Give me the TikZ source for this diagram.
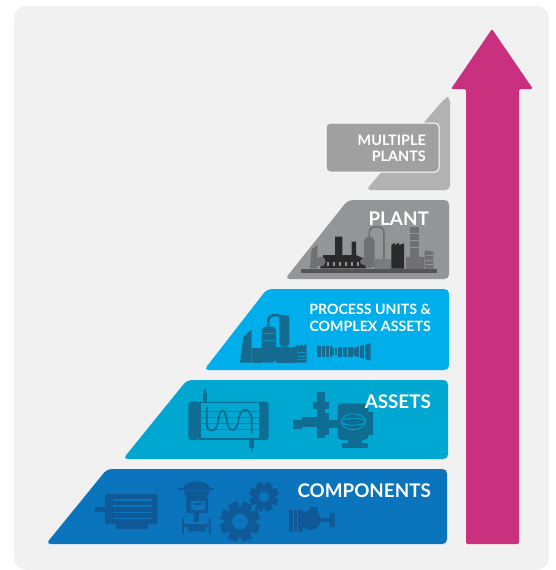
\documentclass[tikz,border=0pt]{standalone}
\usepackage{fontspec}
\setmainfont{Lato}
\definecolor{bgc}{HTML}{F1F1F1}
\definecolor{compc}{HTML}{0A75BC}
\definecolor{assetc}{HTML}{00A7D0}
\definecolor{procc}{HTML}{00AEEB}
\definecolor{plantc}{HTML}{939598}
\definecolor{multc}{HTML}{B2B2B2}
\definecolor{boxc}{HTML}{A0A0A0}
\definecolor{arrc}{HTML}{C9317F}
\definecolor{icomp}{HTML}{0F5A96}
\definecolor{iasset}{HTML}{0F6C93}
\definecolor{iproc}{HTML}{146A8F}
\definecolor{idark}{HTML}{2A2A2A}
\definecolor{imid}{HTML}{555557}
\definecolor{ilight}{HTML}{707072}
\tikzset{
  tier/.style={rounded corners=4.5pt,draw=none},
  lab/.style={text=white,inner sep=0pt,align=right},
  bigfont/.style={font=\fontsize{18.8}{19}\selectfont\bfseries},
  zoomA/.style={shift={(40,370)},x=.33333pt,y=-.33333pt},
  zoomB/.style={shift={(200,190)},x=.33333pt,y=-.33333pt},
}
\newcommand{\gearicon}[6]{% cx cy outer root hole colour
  \foreach \a in {0,45,...,315}{
    \fill[#6,rotate around={\a+22:(#1,#2)}] ({#1-#4*.33},#2) rectangle ({#1+#4*.33},{#2+#3});
  }
  \fill[#6] (#1,#2) circle[radius=#4*.3333pt];
  \fill[compc] (#1,#2) circle[radius=#5*.3333pt];
}
\begin{document}
\begin{tikzpicture}[x=1pt,y=-1pt]
\useasboundingbox (0,0) rectangle (555,570);
\fill[white] (0,0) rectangle (555,570);
\fill[bgc,rounded corners=12pt] (14,6) -- (549,6) -- (549,570) -- (14,570) -- cycle;

% tiers
\fill[tier,compc] (107,469) -- (447,469) -- (447,544) -- (46,544) -- cycle;
\fill[tier,assetc] (187,380) -- (448,380) -- (448,459) -- (123,459) -- cycle;
\fill[tier,procc] (267,289) -- (449,289) -- (449,370) -- (204,370) -- cycle;
\fill[tier,plantc] (348,200) -- (449,200) -- (449,279) -- (285,279) -- cycle;
\fill[tier,multc] (446,97) -- (450,97) -- (450,190) -- (366,190) -- cycle;
\fill[boxc,draw=white,line width=1pt,rounded corners=4pt] (326,123) rectangle (439,172);

% arrow
\fill[arrc,rounded corners=1.5pt] (492,29) -- (533,89) -- (519,89) -- (519,544) -- (466,544) -- (466,89) -- (451,89) -- cycle;

\begin{scope}[zoomA]
  % motor
  \fill[icomp,rounded corners=2pt] (195,372) rectangle (353,463);
  \fill[icomp] (165,410) rectangle (195,426);
  \fill[icomp] (228,463) rectangle (325,478);
  \foreach \yy in {388,406,425,443}{\fill[compc] (218,\yy) rectangle (335,{\yy+4});}
  % valve
  \fill[icomp] (430,355) arc[start angle=180,end angle=0,x radius=13.3pt,y radius=7pt] -- cycle;
  \fill[icomp] (415,355) rectangle (522,361);
  \fill[icomp] (430,361) -- (510,361) -- (500,385) -- (440,385) -- cycle;
  \fill[icomp] (437,385) rectangle (505,430);
  \fill[compc] (453,392) rectangle (495,420);
  \fill[icomp] (462,400) rectangle (486,405);
  \fill[icomp] (462,430) rectangle (478,455);
  \fill[icomp] (440,462) -- (500,462) -- (495,485) -- (445,485) -- cycle;
  \fill[icomp] (425,443) rectangle (431,492);
  \fill[icomp] (508,443) rectangle (514,492);
  \fill[icomp] (431,462) rectangle (508,470);
  % gears
  \gearicon{600}{455}{60}{46}{24}{icomp}
  \gearicon{672}{380}{44}{33}{16}{icomp}
  % small pump
  \fill[icomp] (748,420) rectangle (790,485);
  \foreach \xx in {758,772}{\fill[compc] (\xx,420) rectangle ({\xx+3},485);}
  \fill[icomp] (812,450) circle[radius=10pt];
  \fill[icomp] (810,410) rectangle (835,440);
  \fill[icomp] (835,443) rectangle (870,457);
  \fill[icomp] (870,430) rectangle (885,470);
  % heat exchanger
  \fill[iasset,rounded corners=3pt] (445,95) rectangle (478,210);
  \fill[iasset,rounded corners=3pt] (660,95) rectangle (686,210);
  \draw[iasset,line width=1.2pt] (480,97) rectangle (660,207);
  \foreach \yy in {125,143,160,178}{\draw[iasset!70!assetc,line width=1pt] (480,\yy) -- (660,\yy);}
  \fill[iasset] (488,70) rectangle (502,97);
  \fill[iasset] (492,58) rectangle (498,70);
  \fill[iasset] (628,207) rectangle (642,235);
  \fill[iasset] (632,235) -- (638,235) -- (635,247) -- cycle;
  \draw[iasset,line width=1.8pt] (500,110) -- (500,165) .. controls (505,190) and (530,190) .. (535,150) .. controls (540,110) and (555,115) .. (560,150) .. controls (565,190) and (590,190) .. (595,150) .. controls (600,110) and (630,110) .. (635,145) -- (635,190);
  % pump and motor
  \fill[iasset] (832,65) rectangle (855,205);
  \fill[iasset] (820,97) rectangle (866,117);
  \fill[iasset] (760,150) rectangle (785,178);
  \fill[iasset] (785,142) rectangle (832,170);
  \fill[iasset] (855,130) rectangle (866,195);
  \fill[iasset] (866,150) rectangle (895,175);
  \fill[iasset,rounded corners=4pt] (893,100) rectangle (985,210);
  \fill[iasset] (985,125) rectangle (1000,195);
  \fill[iasset] (905,218) rectangle (985,233);
  \fill[iasset] (925,210) rectangle (965,218);
  \draw[assetc,line width=.8pt] (940,155) ellipse[x radius=12pt,y radius=3.5pt];
  \draw[assetc,line width=.8pt] (940,155) ellipse[x radius=12pt,y radius=8pt];
\end{scope}

\begin{scope}[zoomB]
  % process units
  \fill[iproc] (120,518) -- (130,440) -- (155,418) -- (155,518) -- cycle;
  \fill[iproc] (155,475) rectangle (190,518);
  \fill[iproc,rounded corners=4pt] (185,410) rectangle (228,518);
  \draw[iproc,line width=2.6pt] (205,410) -- (205,390) arc[start angle=180,end angle=0,x radius=7.3pt,y radius=5pt] -- (249,400);
  \fill[iproc] (228,470) rectangle (285,518);
  \fill[iproc,rounded corners=3pt] (238,375) rectangle (268,470);
  \fill[iproc] (285,470) -- (295,462) -- (295,470) -- (307,462) -- (307,470) -- (320,462) -- (320,518) -- (285,518) -- cycle;
  \foreach \yy in {485,498,508}{\fill[procc!60!iproc] (290,\yy) rectangle (318,{\yy+2});}
  \foreach \yy in {430,450}{\fill[procc!60!iproc] (190,\yy) rectangle (224,{\yy+3});}
  % turbine strip
  \fill[iproc] (350,468) rectangle (395,502);
  \fill[iproc] (395,474) rectangle (412,496);
  \fill[iproc] (415,470) rectangle (460,500);
  \fill[iproc] (460,474) -- (512,460) -- (512,512) -- (460,496) -- cycle;
  \foreach \xx in {362,376,388,402,426,440,478,492}{\fill[procc] (\xx,468) rectangle ({\xx+3},506);}

  % plant
  \fill[imid] (302,236) rectangle (712,250);
  \fill[ilight] (330,235) -- (335,178) -- (352,165) -- (352,235) -- cycle;
  \fill[idark] (370,195) -- (405,195) -- (405,140) -- (427,140) -- (427,195) -- (455,195) -- (455,155) -- (468,155) -- (468,195) -- (490,205) -- (500,235) -- (360,235) -- cycle;
  \fill[ilight] (362,215) circle[radius=5pt];
  \fill[ilight] (490,215) circle[radius=3.2pt];
  \foreach \xx in {382,400,418,436,454,472}{\fill[plantc] (\xx,216) rectangle ({\xx+6},228);}
  \fill[ilight,rounded corners=5pt] (492,140) rectangle (524,235);
  \draw[ilight,line width=1.6pt] (508,140) -- (508,125) arc[start angle=180,end angle=0,x radius=7.3pt,y radius=5pt] -- (552,210);
  \fill[ilight!70!plantc] (522,208) rectangle (575,236);
  \fill[idark] (574,165) -- (584,158) -- (584,165) -- (597,158) -- (597,165) -- (612,160) -- (612,236) -- (574,236) -- cycle;
  \fill[ilight] (630,110) rectangle (656,205);
  \fill[ilight] (618,200) rectangle (672,236);
  \fill[ilight] (674,182) -- (685,182) -- (700,185) -- (700,236) -- (674,236) -- cycle;
  \foreach \yy in {130,150,170}{\fill[plantc] (630,\yy) rectangle (656,{\yy+3});}
  \foreach \yy in {195,210,222}{\fill[plantc] (678,\yy) rectangle (698,{\yy+2});}
\end{scope}

% labels
\node[lab,anchor=east,bigfont] (components) at (431,491) {COMPONENTS};
\node[lab,anchor=east,bigfont] (assets) at (431,402) {ASSETS};
\node[lab,anchor=east,font=\fontsize{14.2}{17}\selectfont\bfseries] (process) at (431,317.5) {PROCESS UNITS \&\\COMPLEX ASSETS};
\node[lab,anchor=east,bigfont] (plant) at (429,219) {PLANT};
\node[lab,anchor=east,font=\fontsize{14.4}{16}\selectfont\bfseries] (multiple) at (426,148) {MULTIPLE\\PLANTS};
\end{tikzpicture}
\end{document}
